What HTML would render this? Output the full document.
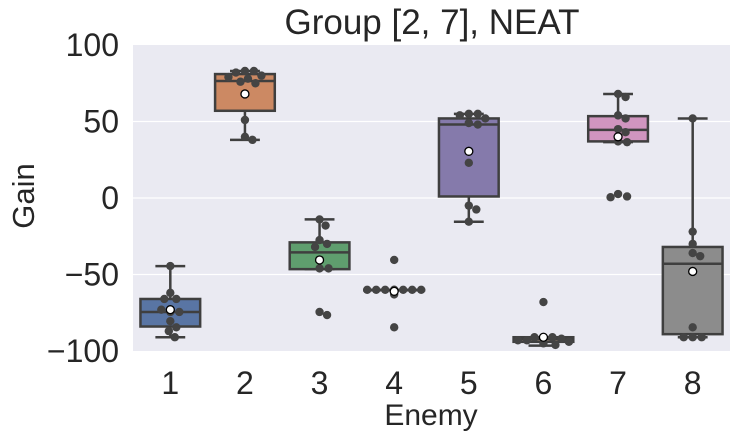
<!DOCTYPE html>
<html><head><meta charset="utf-8"><style>
html,body{margin:0;padding:0;background:#fff;}
svg text{font-family:"Liberation Sans",Arial,sans-serif;fill:#262626;}
</style></head><body>
<svg id="chart" width="740" height="440" viewBox="0 0 740 440">
<rect x="133" y="45" width="597" height="306" fill="#eaeaf2"/>
<g id="grid"></g><g id="boxes"></g><g id="pts"></g><g id="axes"></g>
<text x="432" y="34" font-size="35" text-anchor="middle">Group [2, 7], NEAT</text>
<text x="431" y="425" font-size="30" text-anchor="middle">Enemy</text>
<text transform="translate(34,196) rotate(-90)" font-size="31" text-anchor="middle">Gain</text>
</svg>
<script>
const categories=["1","2","3","4","5","6","7","8"];
const q1=[-84,57,-46.5,-60,1,-94,37,-89];
const med=[-74.5,76.5,-35.5,-60,48,-92,44.5,-43];
const q3=[-66,81,-29,-60,52,-91,53.5,-32];
const whiskLo=[-91,38,-46.5,-60,-15.5,-96.5,36.5,-91];
const whiskHi=[-44.5,83,-14,-60,55,-91,68,52];
const means=[-73,68,-40.5,-61,30.5,-91,40,-48];
const points=[
[-44.5,-62,-66,-66,-74.5,-74.5,-73,-80.5,-84.5,-87,-91],
[83,83,82,80,79,78,76,75,51,40,38],
[-14,-18,-27.5,-30,-32,-40.5,-46,-46,-74.5,-76.5],
[-60,-60,-60,-60,-60,-60,-60,-60,-40.5,-63,-84.5],
[55,55,54,52,49,48,23,-5,-7.5,-15.5],
[-91,-91,-91,-92,-93,-93,-94,-95,-96,-68],
[68,66,54,52,45,43,37,36.5,2.6,1,0.5],
[52,-22,-30,-36,-38,-48,-84.5,-91,-91,-91]];
const yTicks=[100,50,0,-50,-100];
const colors=["#5975a4","#cc8963","#5f9e6e","#b55d60","#857aab","#8d7866","#d095bf","#8c8c8c"];
const NS="http://www.w3.org/2000/svg";
const X0=133,W=597,Y0=45,H=306,band=W/categories.length;
const y=v=>Y0+(100-v)/200*H;
const x=i=>X0+band*(i+0.5);
function mk(tag,attrs,parent){const e=document.createElementNS(NS,tag);for(const k in attrs)e.setAttribute(k,attrs[k]);document.getElementById(parent).appendChild(e);return e;}
yTicks.forEach(t=>{
  if(t<100&&t>-100){const g=mk('line',{x1:X0,x2:X0+W,y1:y(t),y2:y(t),stroke:'#fff','stroke-width':1.3},'grid');
  
  }
  const l=mk('text',{x:119,y:y(t)+11,'font-size':32,'text-anchor':'end'},'axes');l.textContent=t===0?'0':(t<0?'\u2212'+(-t):t);
  
  
});
const LC='#3f3f3f',bw=band*0.8;
categories.forEach((c,i)=>{
  const cx=x(i);
  const t=mk('text',{x:cx,y:394,'font-size':32,'text-anchor':'middle'},'axes');t.textContent=c;
  
  
  const wl=mk('line',{x1:cx,x2:cx,y1:y(q3[i]),y2:y(whiskHi[i]),stroke:LC,'stroke-width':2.5},'boxes');
  
  
  const wl2=mk('line',{x1:cx,x2:cx,y1:y(q1[i]),y2:y(whiskLo[i]),stroke:LC,'stroke-width':2.5},'boxes');
  
  
  [whiskHi[i],whiskLo[i]].forEach(v=>{const cap=mk('line',{x1:cx-bw/4,x2:cx+bw/4,y1:y(v),y2:y(v),stroke:LC,'stroke-width':2.5},'boxes');
    
    });
  const b=mk('rect',{x:cx-bw/2,y:y(q3[i]),width:bw,height:Math.max(y(q1[i])-y(q3[i]),0.5),fill:colors[i],stroke:LC,'stroke-width':2.5},'boxes');
  
  
  const m=mk('line',{x1:cx-bw/2,x2:cx+bw/2,y1:y(med[i]),y2:y(med[i]),stroke:LC,'stroke-width':2.5},'boxes');
  
  
  const placed=[];const r=4.2;
  points[i].forEach(v=>{
    const py=y(v);let best=0;
    for(let k=0;k<40;k++){const off=(k%2?1:-1)*Math.ceil(k/2)*1.5;
      if(placed.every(p=>Math.hypot(p[0]-off,p[1]-py)>=2*r-0.5)){best=off;break;}}
    placed.push([best,py]);
    const p=mk('circle',{cx:cx+best,cy:py,r:r,fill:'#444'},'pts');
    
    
  });
  const mn=mk('circle',{cx:cx,cy:y(means[i]),r:4,fill:'#fff',stroke:'#000','stroke-width':1.3},'pts');
  
  
});
</script>
</body></html>
